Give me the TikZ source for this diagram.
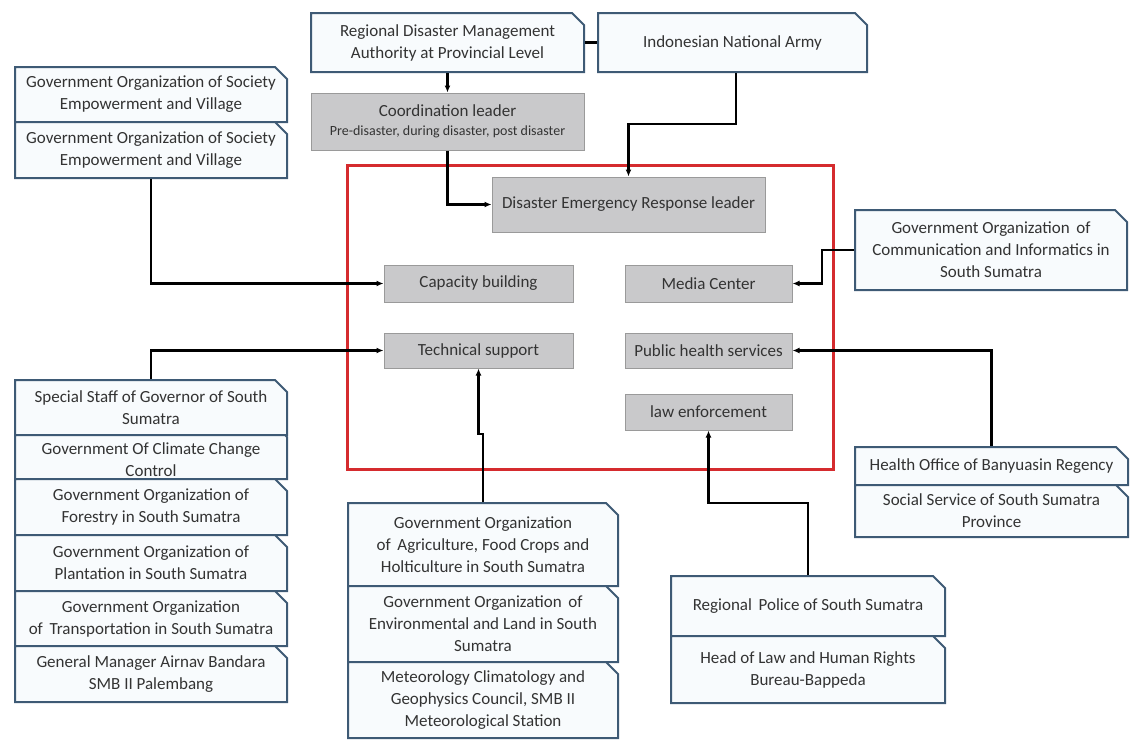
\documentclass[tikz,border=0pt]{standalone}
\usepackage{fontspec}
\setmainfont{Carlito}
\usetikzlibrary{shapes.misc,arrows.meta}
\definecolor{bordercol}{HTML}{3E5A75}
\definecolor{boxfill}{HTML}{F8FBFD}
\definecolor{grayfill}{HTML}{C9C9CB}
\definecolor{grayline}{HTML}{9A9A9A}
\definecolor{redline}{HTML}{D52B2E}
\definecolor{txt}{HTML}{333333}
\tikzset{
  obox/.style={chamfered rectangle, chamfered rectangle corners=north east,
    chamfered rectangle xsep=6pt, chamfered rectangle ysep=6pt,
    draw=bordercol, line width=2pt, fill=boxfill, align=center,
    text=txt, inner sep=1pt,
    font=\fontsize{17}{22}\selectfont},
  gbox/.style={rectangle, draw=grayline, line width=1pt, fill=grayfill,
    align=center, text=txt, inner sep=1pt,
    font=\fontsize{17}{22}\selectfont},
  conn/.style={line width=2.4pt, black},
  arr/.style={conn, -{Latex[length=7pt,width=6pt]}},
}
\begin{document}
\begin{tikzpicture}[x=1pt,y=-1pt]
\useasboundingbox (0,0) rectangle (1131,742);
% red frame
\draw[redline, line width=3pt] (347,165) rectangle (833,469);
% top
\node[obox, minimum width=273pt, minimum height=59pt] (rdma) at (447.5,42.5) {Regional Disaster Management\\Authority at Provincial Level};
\node[obox, minimum width=269pt, minimum height=59pt] (ina) at (732.5,42.5) {Indonesian National Army};
\node[gbox, minimum width=273pt, minimum height=57pt] (coord) at (447.5,121.5) {Coordination leader\\[-3pt]{\fontsize{14}{16}\selectfont Pre-disaster, during disaster, post disaster}};
% inside red frame
\node[gbox, minimum width=273pt, minimum height=55pt] (derl) at (628.5,204.5) {Disaster Emergency Response leader};
\node[gbox, minimum width=189pt, minimum height=37pt] (cap) at (478.5,283.5) {Capacity building};
\node[gbox, minimum width=189pt, minimum height=35pt] (tech) at (478.5,350.5) {Technical support};
\node[gbox, minimum width=167pt, minimum height=37pt] (media) at (708.5,283.5) {Media Center};
\node[gbox, minimum width=167pt, minimum height=35pt] (health) at (708.5,350.5) {Public health services};
\node[gbox, minimum width=167pt, minimum height=36pt] (law) at (708.5,412) {law enforcement};
% left top stack
\node[obox, minimum width=272pt, minimum height=55pt] (soc1) at (151,94.5) {Government Organization of Society\\Empowerment and Village};
\node[obox, minimum width=272pt, minimum height=56pt] (soc2) at (151,150) {Government Organization of Society\\Empowerment and Village};
% left bottom stack
\node[obox, minimum width=272pt, minimum height=55pt] (staff) at (151,407.5) {Special Staff of Governor of South\\Sumatra};
\node[obox, minimum width=272pt, minimum height=44pt] (climate) at (151,457) {};
\node[align=center, text=txt, font=\fontsize{17}{22}\selectfont, inner sep=0pt] (climatetxt) at (151,460) {Government Of Climate Change\\Control};
\node[obox, minimum width=272pt, minimum height=56pt] (forestry) at (151,507) {Government Organization of\\Forestry in South Sumatra};
\node[obox, minimum width=272pt, minimum height=56pt] (plant) at (151,563) {Government Organization of\\Plantation in South Sumatra};
\node[obox, minimum width=272pt, minimum height=55pt] (transp) at (151,618.5) {Government Organization\\of\, Transportation in South Sumatra};
\node[obox, minimum width=272pt, minimum height=56pt] (gm) at (151,674) {General Manager Airnav Bandara\\SMB II Palembang};
% middle bottom stack
\node[obox, minimum width=270pt, minimum height=83pt] (agri) at (483,544.5) {Government Organization\\of\, Agriculture, Food Crops and\\Holticulture in South Sumatra};
\node[obox, minimum width=270pt, minimum height=76pt] (env) at (483,624) {Government Organization\, of\\Environmental and Land in South\\Sumatra};
\node[obox, minimum width=270pt, minimum height=76pt] (meteo) at (483,700) {Meteorology Climatology and\\Geophysics Council, SMB II\\Meteorological Station};
% right
\node[obox, minimum width=272pt, minimum height=80pt] (comm) at (991,250) {Government Organization\, of\\Communication and Informatics in\\South Sumatra};
\node[obox, minimum width=273pt, minimum height=38pt] (hoff) at (991.5,466) {Health Office of Banyuasin Regency};
\node[obox, minimum width=273pt, minimum height=52pt] (social) at (991.5,511) {Social Service of South Sumatra\\Province};
\node[obox, minimum width=274pt, minimum height=60pt] (police) at (808,606) {Regional\, Police of South Sumatra};
\node[obox, minimum width=274pt, minimum height=67pt] (headlaw) at (808,669.5) {Head of Law and Human Rights\\Bureau-Bappeda};
% connectors
\draw[conn] (rdma.east) -- (ina.west);
\draw[arr] (rdma.south) -- (coord.north);
\draw[arr] (coord.south) |- (derl.west);
\draw[arr] ([xshift=3.5pt]ina.south) -- ++(0,51) -| (derl.north);
\draw[arr] (soc2.south) |- (cap.west);
\draw[arr] (staff.north) |- (tech.west);
\draw[arr] (agri.north) -- ++(0,-68) -| (tech.south);
\draw[arr] (comm.west) -- ++(-32,0) |- (media.east);
\draw[arr] (hoff.north) |- (health.east);
\draw[arr] (police.north) -- ++(0,-72) -| (law.south);
\end{tikzpicture}
\end{document}
